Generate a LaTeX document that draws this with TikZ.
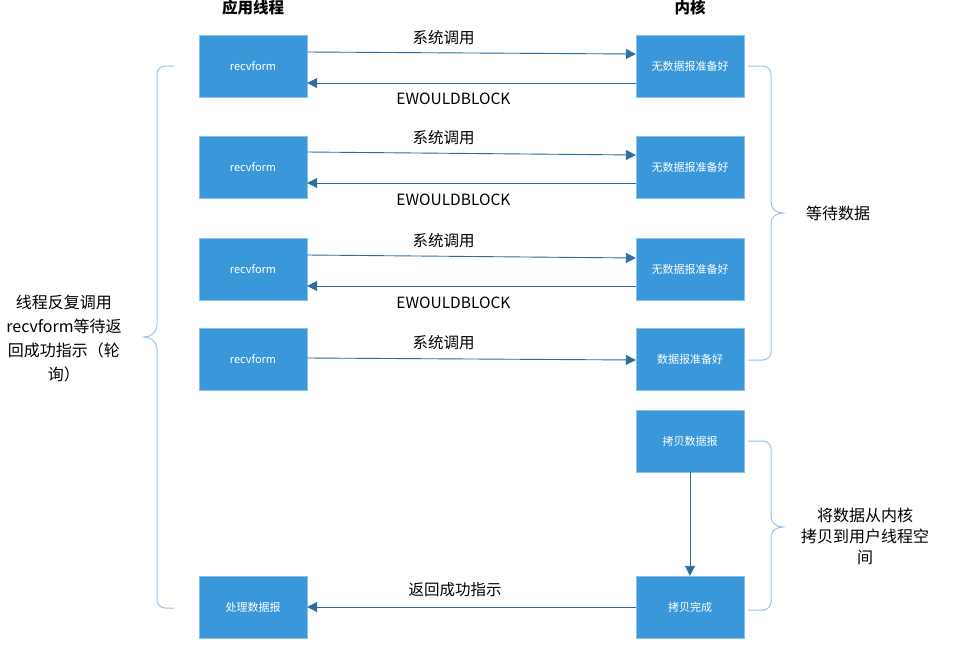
\documentclass[tikz,border=0pt]{standalone}
\usepackage{fontspec}
\newfontfamily\cjk{Noto Sans CJK SC}
\usetikzlibrary{arrows.meta}
\definecolor{boxblue}{HTML}{3A97DA}
\definecolor{linkblue}{HTML}{2B6E9F}
\definecolor{braceblue}{HTML}{9CC3E8}

\begin{document}
\begin{tikzpicture}[x=1pt,y=-1pt,
		box/.style={fill=boxblue,draw=boxblue!60,minimum width=108pt,minimum height=62pt,inner sep=0pt,text=white,font=\cjk\fontsize{11}{13}\selectfont},
		link/.style={draw=linkblue,line width=0.9pt,-{Triangle[length=10pt,width=10pt]}},
		lbl/.style={font=\cjk\fontsize{15.5}{18}\selectfont,inner sep=0pt},
		head/.style={font=\cjk\bfseries\fontsize{15.5}{17}\selectfont,inner sep=0pt},
		note/.style={font=\cjk\fontsize{16}{24}\selectfont,align=center,inner sep=0pt},
		curly/.style={draw=braceblue,line width=1pt}]
		\useasboundingbox (0,0) rectangle (954,659);
		\fill[white] (0,0) rectangle (954,659);
		% headers
		\node[head] (h_app) at (253,8) {应用线程};
		\node[head] (h_ker) at (690,8) {内核};
		% application side
		\node[box] (app_1) at (253,66) {recvform};
		\node[box] (app_2) at (253,167) {recvform};
		\node[box] (app_3) at (253,269) {recvform};
		\node[box] (app_4) at (253,359) {recvform};
		\node[box] (app_5) at (253,607) {处理数据报};
		% kernel side
		\node[box] (ker_1) at (690,66) {无数据报准备好};
		\node[box] (ker_2) at (690,167) {无数据报准备好};
		\node[box] (ker_3) at (690,269) {无数据报准备好};
		\node[box] (ker_4) at (690,359) {数据报准备好};
		\node[box] (ker_5) at (690,441) {拷贝数据报};
		\node[box] (ker_6) at (690,607) {拷贝完成};
		% calls and replies
		\draw[link] ([yshift=14pt]app_1.east) -- node[lbl,above=8pt,pos=0.415] {系统调用} ([yshift=12pt]ker_1.west);
		\draw[link] ([yshift=-17pt]ker_1.west) -- node[lbl,below=9.5pt,pos=0.555] {EWOULDBLOCK} ([yshift=-17pt]app_1.east);
		\draw[link] ([yshift=15pt]app_2.east) -- node[lbl,above=8pt,pos=0.415] {系统调用} ([yshift=12pt]ker_2.west);
		\draw[link] ([yshift=-16pt]ker_2.west) -- node[lbl,below=10pt,pos=0.555] {EWOULDBLOCK} ([yshift=-16pt]app_2.east);
		\draw[link] ([yshift=14pt]app_3.east) -- node[lbl,above=8pt,pos=0.415] {系统调用} ([yshift=11pt]ker_3.west);
		\draw[link] ([yshift=-17pt]ker_3.west) -- node[lbl,below=10pt,pos=0.555] {EWOULDBLOCK} ([yshift=-17pt]app_3.east);
		\draw[link] ([yshift=1pt]app_4.east) -- node[lbl,above=9pt,pos=0.415] {系统调用} ([yshift=-1pt]ker_4.west);
		\draw[link] (ker_5) -- (ker_6);
		\draw[link] (ker_6) -- node[lbl,above=10pt,pos=0.55] {返回成功指示} (app_5);
		% braces
		\draw[curly] (174,66) -- (165,66) .. controls (160.6,66) and (157,69.6) .. (157,74)
		-- (157,325) .. controls (157,332) and (151,337) .. (144,337)
		.. controls (151,337) and (157,342) .. (157,349)
		-- (157,600) .. controls (157,604.4) and (160.6,608) .. (165,608) -- (174,608);
		\draw[curly] (748,66) -- (763,66) .. controls (767.4,66) and (771,69.6) .. (771,74)
		-- (771,202) .. controls (771,209) and (776,213) .. (783,213)
		.. controls (776,213) and (771,217) .. (771,224)
		-- (771,352) .. controls (771,356.4) and (767.4,360) .. (763,360) -- (748,360);
		\draw[curly] (748,441) -- (763,441) .. controls (767.4,441) and (771,444.6) .. (771,449)
		-- (771,516) .. controls (771,523) and (776,527) .. (783,527)
		.. controls (776,527) and (771,531) .. (771,538)
		-- (771,602) .. controls (771,606.4) and (767.4,610) .. (763,610) -- (748,610);
		% notes
		\node[note] (n_poll) at (64,339) {线程反复调用\\recvform等待返\\回成功指示（轮\\询）};
		\node[note] (n_wait) at (838,213) {等待数据};
		\node[note,font=\cjk\fontsize{16}{21}\selectfont] (n_copy) at (865,536) {将数据从内核\\拷贝到用户线程空\\间};
	\end{tikzpicture}
\end{document}
